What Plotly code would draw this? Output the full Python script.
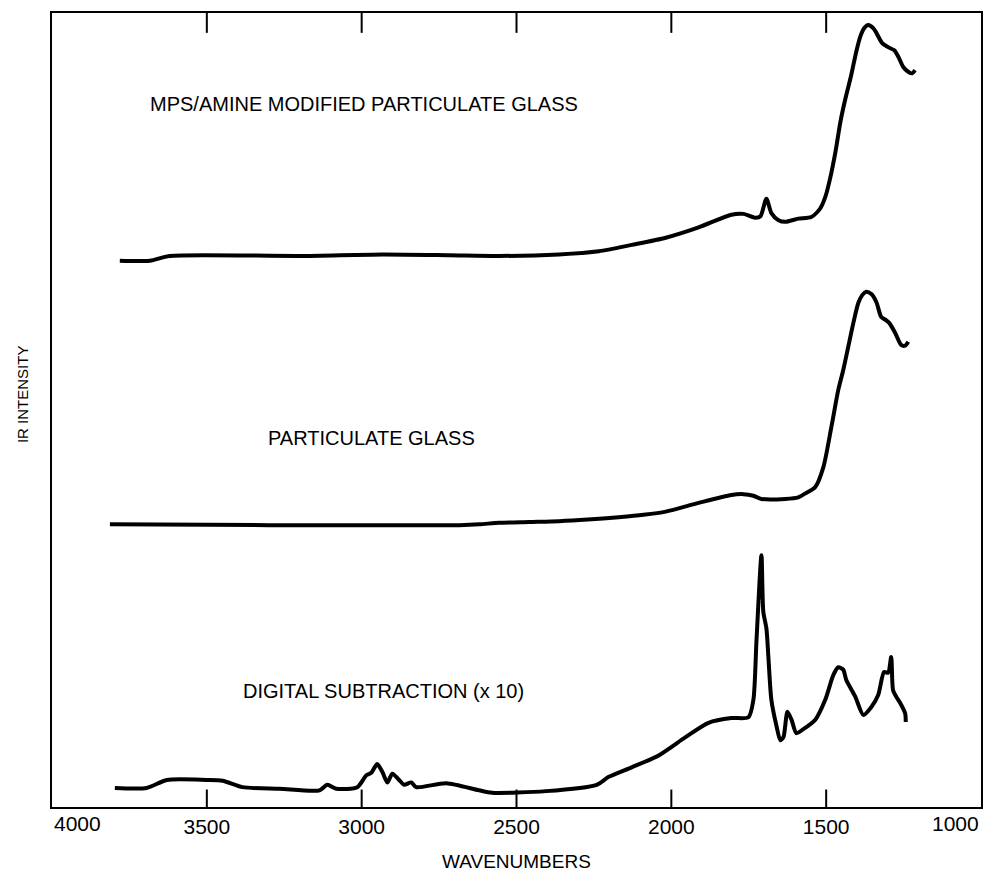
import plotly.graph_objects as go

# ---- data (wavenumber, relative IR intensity) ----
mps_wn = [3781, 3684, 3620, 3201, 2933, 2718, 2556, 2363, 2234, 2128, 2018, 1912, 1806, 1767,
          1728, 1712, 1693, 1677, 1654, 1632, 1590, 1548, 1519, 1503, 1487, 1470, 1454, 1438,
          1419, 1403, 1390, 1377, 1364, 1348, 1338, 1319, 1300, 1280, 1267, 1251, 1235, 1222, 1213]
mps_int = [68.8, 68.8, 69.4, 69.4, 69.6, 69.5, 69.4, 69.6, 70.0, 70.8, 71.7, 73.0, 74.6, 74.7,
           74.2, 74.4, 76.6, 74.8, 73.9, 73.7, 74.1, 74.3, 75.4, 76.8, 79.2, 82.5, 86.3, 89.2,
           92.2, 95.1, 97.0, 98.1, 98.5, 98.1, 97.5, 96.2, 95.7, 95.3, 94.5, 93.2, 92.6, 92.4, 92.8]

glass_wn = [3813, 3300, 2943, 2800, 2685, 2620, 2556, 2460, 2363, 2270, 2170, 2090, 2018, 1912,
            1806, 1767, 1735, 1709, 1632, 1590, 1567, 1535, 1509, 1483, 1461, 1445, 1429, 1412,
            1396, 1383, 1371, 1354, 1338, 1322, 1306, 1297, 1277, 1258, 1245, 1235]
glass_int = [35.6, 35.5, 35.5, 35.5, 35.5, 35.6, 35.8, 35.9, 36.0, 36.2, 36.5, 36.8, 37.2, 38.3,
             39.3, 39.4, 39.2, 38.8, 38.8, 39.0, 39.5, 40.3, 42.8, 47.9, 52.5, 55.0, 57.9, 61.0,
             63.5, 64.5, 64.9, 64.6, 63.6, 61.7, 61.3, 61.0, 59.7, 58.2, 58.1, 58.6]

sub_wn = [3797, 3694, 3629, 3501, 3449, 3385, 3265, 3136, 3111, 3082, 3014, 2985, 2969, 2950,
          2933, 2917, 2901, 2879, 2863, 2840, 2824, 2727, 2621, 2579, 2405, 2241, 2202, 2128,
          2041, 1954, 1880, 1806, 1751, 1735, 1725, 1709, 1703, 1693, 1686, 1677, 1661, 1648,
          1638, 1625, 1612, 1596, 1574, 1535, 1503, 1477, 1461, 1445, 1435, 1406, 1380, 1354,
          1332, 1313, 1300, 1290, 1284, 1274, 1261, 1245, 1243]
sub_int = [2.4, 2.4, 3.4, 3.4, 3.3, 2.5, 2.3, 2.1, 2.8, 2.3, 2.5, 4.0, 4.3, 5.4,
           4.4, 3.1, 4.2, 3.4, 2.8, 3.1, 2.5, 3.0, 2.1, 1.8, 2.0, 2.8, 3.8, 5.0,
           6.5, 8.8, 10.6, 11.2, 11.3, 13.5, 21.0, 31.7, 24.6, 22.5, 18.5, 13.5, 10.3, 8.4,
           8.8, 12.0, 11.0, 9.3, 9.8, 11.0, 13.5, 16.6, 17.6, 17.3, 16.0, 13.9, 11.6, 12.6,
           14.1, 17.0, 16.9, 18.9, 14.7, 13.9, 13.1, 11.8, 10.7]

tick_vals = [3500, 3000, 2500, 2000, 1500]
tick_text = ["3500", "3000", "2500", "2000", "1500"]

labels = ["MPS/AMINE MODIFIED PARTICULATE GLASS", "PARTICULATE GLASS", "DIGITAL SUBTRACTION (x 10)"]
label_wn = [3691, 3310, 3391]
label_int = [88.6, 46.5, 14.6]

FONT = "Liberation Sans, Arial, sans-serif"

fig = go.Figure()
for xs, ys in [(mps_wn, mps_int), (glass_wn, glass_int), (sub_wn, sub_int)]:
    fig.add_trace(go.Scatter(x=xs, y=ys, mode="lines",
                             line=dict(color="black", width=4, shape="spline", smoothing=0.7),
                             showlegend=False, hoverinfo="skip"))

for t, xw, yi in zip(labels, label_wn, label_int):
    fig.add_annotation(x=xw, y=yi, text=t, showarrow=False, xanchor="left", yanchor="middle",
                       font=dict(family=FONT, size=20, color="black"))

# inside tick marks on bottom and top edges
for tv in tick_vals:
    fig.add_shape(type="line", xref="x", yref="paper", x0=tv, x1=tv, y0=0, y1=0.022,
                  line=dict(color="black", width=2))
    fig.add_shape(type="line", xref="x", yref="paper", x0=tv, x1=tv, y0=1, y1=0.975,
                  line=dict(color="black", width=2))

# end tick labels aligned to the frame
fig.add_annotation(x=4000, y=0, yref="paper", text="4000", showarrow=False, xanchor="left",
                   yanchor="middle", yshift=-16, font=dict(family=FONT, size=21, color="black"))
fig.add_annotation(x=1000, y=0, yref="paper", text="1000", showarrow=False, xanchor="right",
                   yanchor="middle", yshift=-16, font=dict(family=FONT, size=21, color="black"))
# axis titles
fig.add_annotation(x=0.5, y=0, xref="paper", yref="paper", text="WAVENUMBERS", showarrow=False,
                   xanchor="center", yanchor="middle", yshift=-54,
                   font=dict(family=FONT, size=19, color="black"))
fig.add_annotation(x=0, y=0.52, xref="paper", yref="paper", text="IR INTENSITY", showarrow=False,
                   textangle=-90, xanchor="center", yanchor="middle", xshift=-30,
                   font=dict(family=FONT, size=15, color="black"))

fig.update_xaxes(range=[4000, 1000], tickvals=tick_vals, ticktext=tick_text,
                 ticks="", showline=True, linecolor="black", linewidth=2, mirror=True,
                 showgrid=False, zeroline=False,
                 tickfont=dict(family=FONT, size=21, color="black"))
fig.update_yaxes(range=[0, 100], showticklabels=False, ticks="",
                 showline=True, linecolor="black", linewidth=2, mirror=True,
                 showgrid=False, zeroline=False)

fig.update_layout(width=985, height=871, margin=dict(l=52, r=2, t=13, b=64),
                  plot_bgcolor="white", paper_bgcolor="white", showlegend=False)

fig.write_html("out.html")
